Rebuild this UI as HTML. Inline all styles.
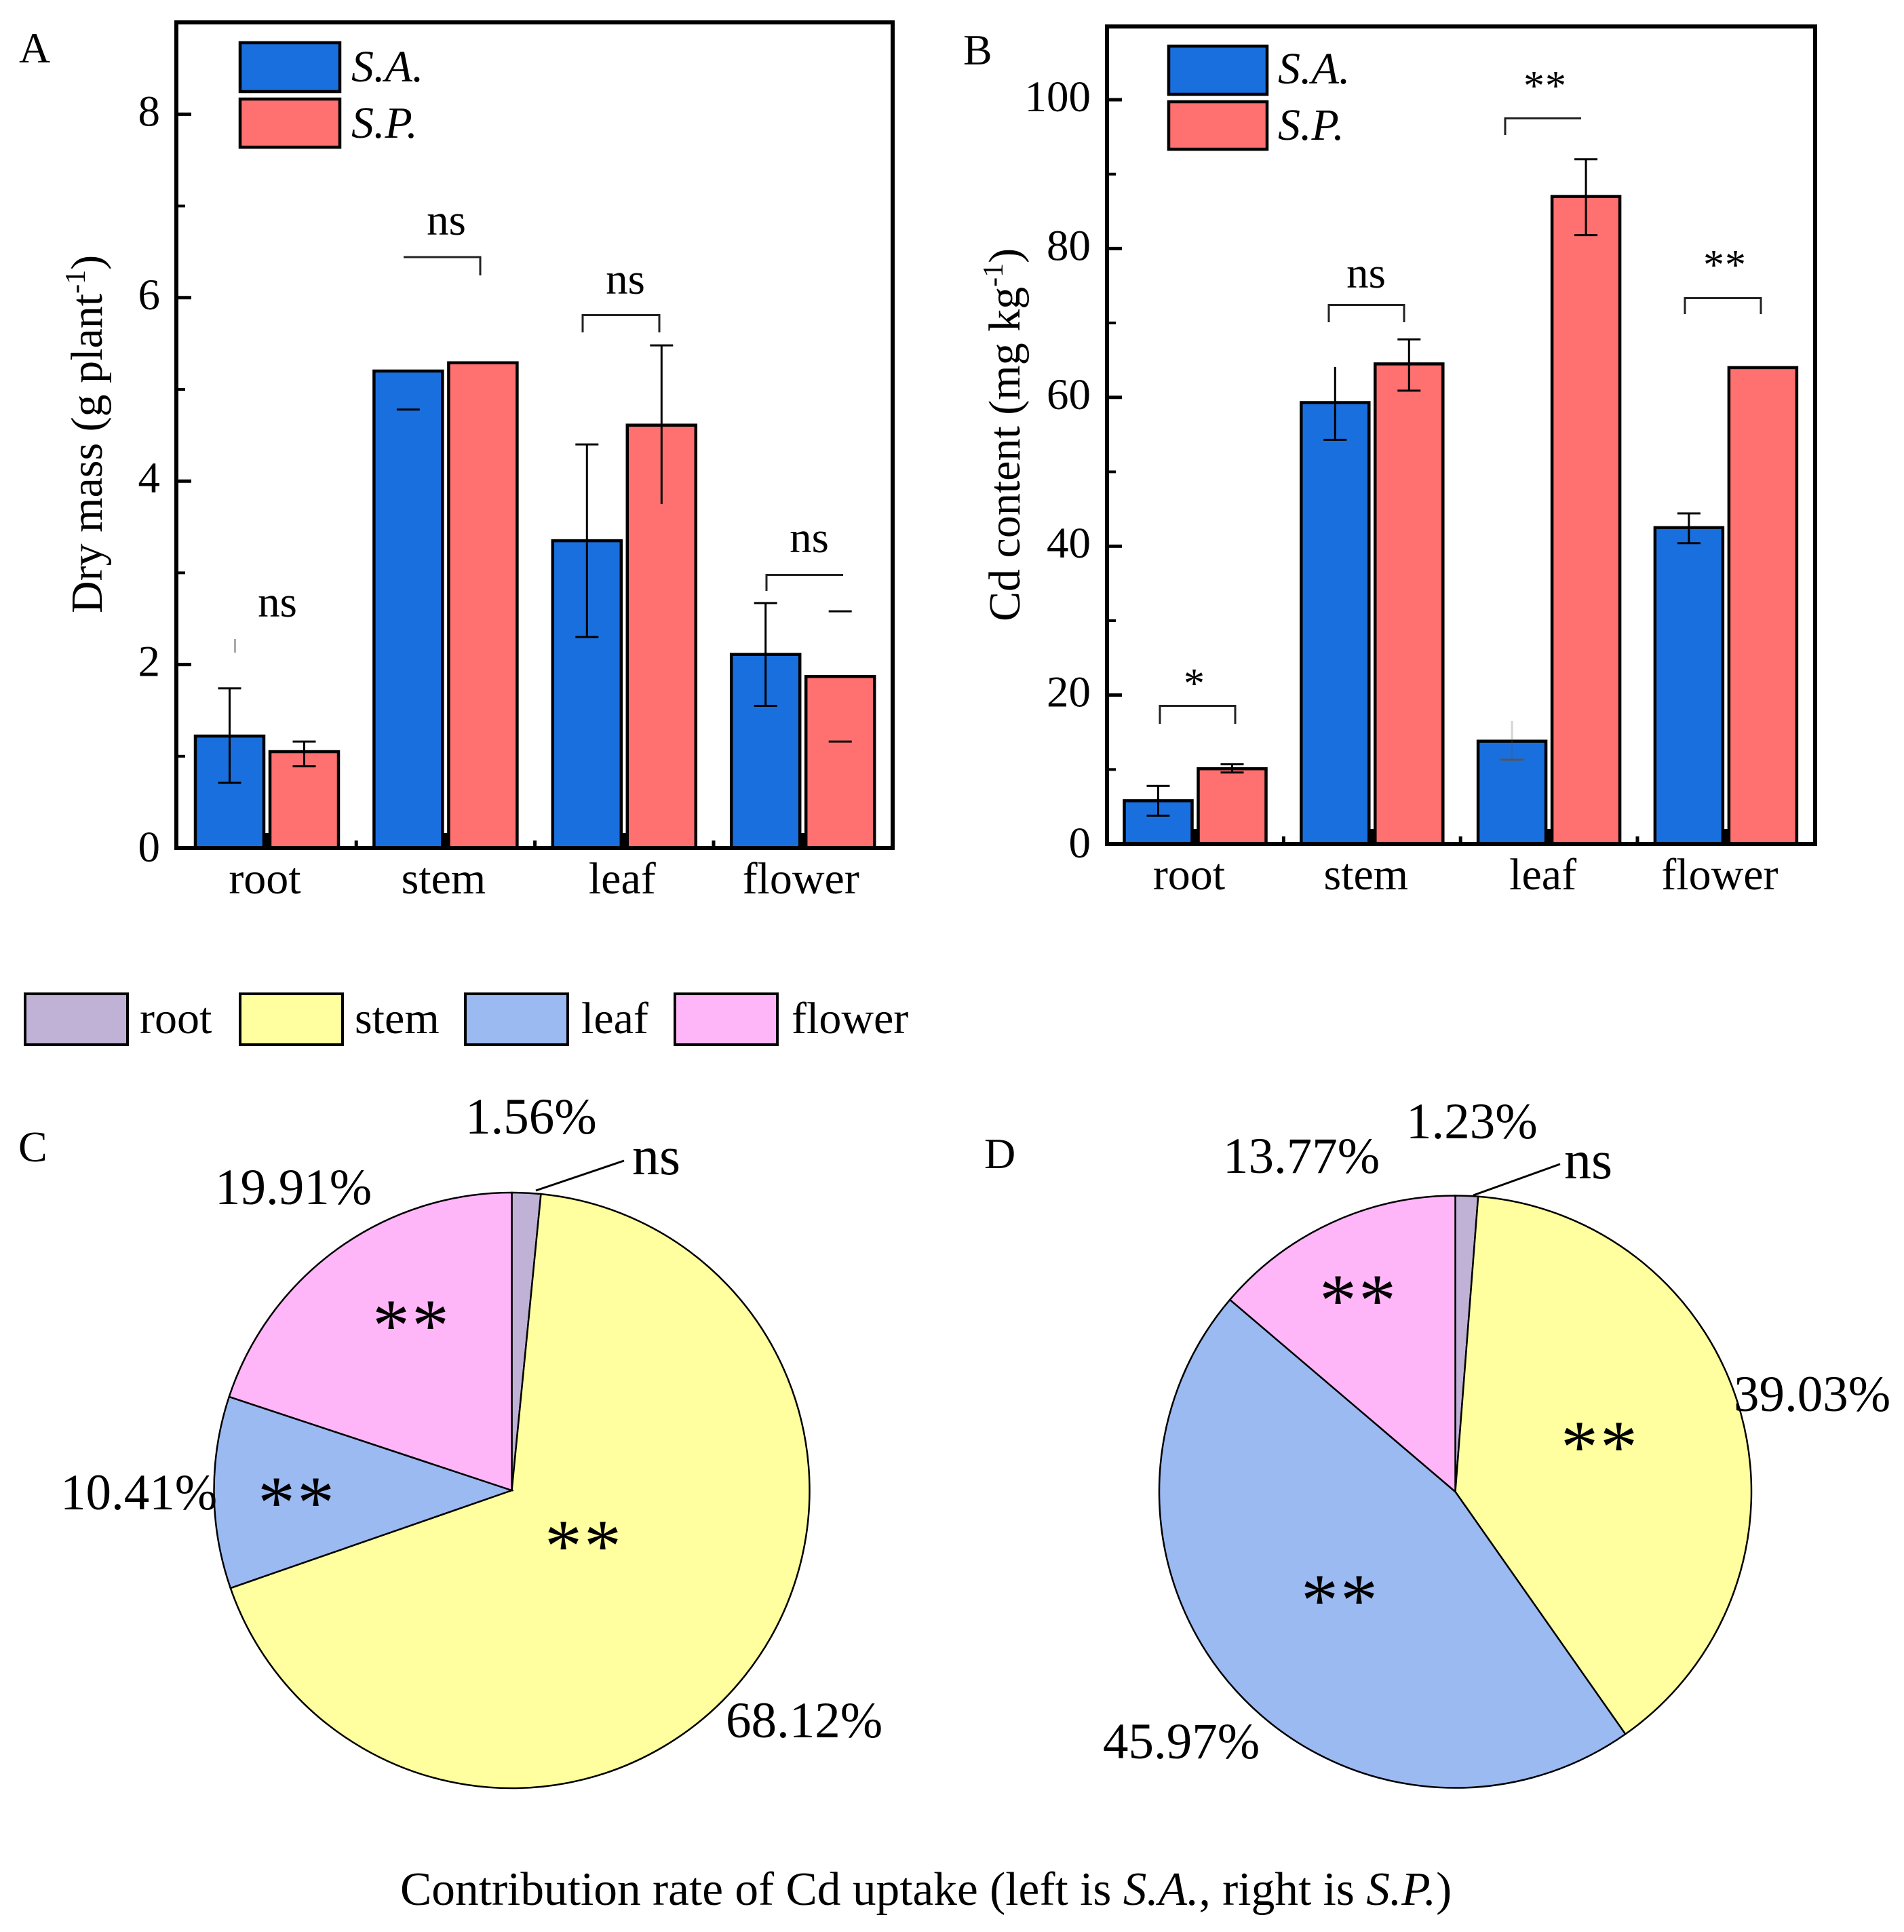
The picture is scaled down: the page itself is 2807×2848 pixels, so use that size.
<!DOCTYPE html>
<html lang="en">
<head>
<meta charset="utf-8">
<title>Dry mass, Cd content and Cd uptake contribution</title>
<style>
html,body{margin:0;padding:0;background:#fff}
svg{display:block}
text{font-family:"Liberation Serif",serif;fill:#000}
.tick{font-size:65px}
.cat{font-size:66px}
.pct{font-size:75px}
.pns{font-size:80px}
.panel{font-size:64px}
.stars{font-size:110px;letter-spacing:3px}
.sm{font-size:62px;letter-spacing:1px}
.ns{font-size:65px}
.leg{font-size:66px}
.it{font-style:italic;font-size:66px}
</style>
</head>
<body>
<svg id="fig" xmlns="http://www.w3.org/2000/svg" width="2807" height="2848" viewBox="0 0 2807 2848">
  <rect width="2807" height="2848" fill="#fff"/>
  <g id="panelA"></g>
  <g id="panelB"></g>
  <g id="pieC"></g>
  <g id="pieD"></g>

  <text class="panel" x="28" y="92">A</text>
  <text class="panel" x="1420" y="95">B</text>
  <text class="panel" x="27" y="1712">C</text>
  <text class="panel" x="1451" y="1722">D</text>

  <text font-size="66" transform="translate(150,904) rotate(-90)">Dry mass (g plant<tspan font-size="42" dy="-25">-1</tspan><tspan dy="25">)</tspan></text>
  <text font-size="66" transform="translate(1503,916) rotate(-90)">Cd content (mg kg<tspan font-size="42" dy="-25">-1</tspan><tspan dy="25">)</tspan></text>

  <g>
    <rect x="354" y="63" width="147" height="72" fill="#1a6fdf" stroke="#000" stroke-width="4.500"/>
    <rect x="354" y="146" width="147" height="71" fill="#ff7070" stroke="#000" stroke-width="4.500"/>
    <text class="it" x="518" y="120">S.A.</text>
    <text class="it" x="518" y="203">S.P.</text>
  </g>
  <g>
    <rect x="1723" y="68" width="145" height="71" fill="#1a6fdf" stroke="#000" stroke-width="4.500"/>
    <rect x="1723" y="150" width="145" height="70" fill="#ff7070" stroke="#000" stroke-width="4.500"/>
    <text class="it" x="1884" y="123">S.A.</text>
    <text class="it" x="1884" y="206">S.P.</text>
  </g>

  <g fill="none" stroke="#222" stroke-width="3">
    <path d="M595 379H708V406"/>
    <path d="M859 490V464.500H972V490"/>
    <path d="M1130 871V847.500H1243"/>
    <path d="M346.500 942V962" stroke="#aaa"/>
    <path d="M1710 1067V1040.500H1821V1067"/>
    <path d="M1959 475V449.500H2070V475"/>
    <path d="M2219 199V174.500H2331"/>
    <path d="M2484 463V439.500H2596V463"/>
  </g>
  <g text-anchor="middle">
    <text class="ns" x="409" y="909">ns</text>
    <text class="ns" x="658" y="346">ns</text>
    <text class="ns" x="922" y="433">ns</text>
    <text class="ns" x="1193" y="814">ns</text>
    <text class="sm" x="1761" y="1028">*</text>
    <text class="ns" x="2014" y="424">ns</text>
    <text class="sm" x="2278" y="147">**</text>
    <text class="sm" x="2543" y="411">**</text>
  </g>

  <g stroke="#000" stroke-width="4">
    <rect x="37" y="1465" width="151" height="75" fill="#bfb2d6"/>
    <rect x="354" y="1465" width="151" height="75" fill="#ffff9f"/>
    <rect x="686" y="1465" width="151" height="75" fill="#9bbaf2"/>
    <rect x="995" y="1465" width="151" height="75" fill="#ffb6f8"/>
  </g>
  <text class="leg" x="206" y="1523">root</text>
  <text class="leg" x="523" y="1523">stem</text>
  <text class="leg" x="857" y="1523">leaf</text>
  <text class="leg" x="1167" y="1523">flower</text>

  <g>
    <text class="pct" x="686" y="1671">1.56%</text>
    <text class="pns" x="932" y="1731">ns</text>
    <path d="M920 1711L790 1755" stroke="#000" stroke-width="3" fill="none"/>
    <text class="pct" x="317" y="1775">19.91%</text>
    <text class="pct" x="89" y="2225">10.41%</text>
    <text class="pct" x="1070" y="2561">68.12%</text>
    <text class="stars" x="607" y="1991" text-anchor="middle">**</text>
    <text class="stars" x="438" y="2252" text-anchor="middle">**</text>
    <text class="stars" x="861" y="2316" text-anchor="middle">**</text>
  </g>
  <g>
    <text class="pct" x="2073" y="1678">1.23%</text>
    <text class="pns" x="2306" y="1737">ns</text>
    <path d="M2300 1716L2172 1762" stroke="#000" stroke-width="3" fill="none"/>
    <text class="pct" x="1803" y="1729">13.77%</text>
    <text class="pct" x="2556" y="2080">39.03%</text>
    <text class="pct" x="1626" y="2592">45.97%</text>
    <text class="stars" x="2003" y="1954" text-anchor="middle">**</text>
    <text class="stars" x="2359" y="2170" text-anchor="middle">**</text>
    <text class="stars" x="1976" y="2396" text-anchor="middle">**</text>
  </g>

  <text font-size="69.400" x="590" y="2808">Contribution rate of Cd uptake (left is <tspan font-style="italic">S.A.</tspan>, right is <tspan font-style="italic">S.P.</tspan>)</text>
</svg>
<script>
const categories = ['root', 'stem', 'leaf', 'flower'];
const dryTicks = [0, 2, 4, 6, 8];
const dryMinor = [1, 3, 5, 7];
const drySA = [1.22, 5.2, 3.35, 2.11];
const drySP = [1.05, 5.29, 4.61, 1.87];
const drySAHi = [1.74, 5.62, 4.4, 2.67];
const drySALo = [0.71, 4.78, 2.3, 1.55];
const drySPHi = [1.16, 5.29, 5.48, 2.58];
const drySPLo = [0.89, 5.29, 3.75, 1.16];
const drySAParts = ['full', 'low', 'full', 'full'];
const drySPParts = ['full', 'none', 'nolow', 'caps'];

const cdTicks = [0, 20, 40, 60, 80, 100];
const cdMinor = [10, 30, 50, 70, 90];
const cdSA = [5.8, 59.3, 13.8, 42.5];
const cdSP = [10.1, 64.5, 87, 64];
const cdSAHi = [7.8, 64.1, 16.5, 44.4];
const cdSALo = [3.8, 54.3, 11.3, 40.4];
const cdSPHi = [10.7, 67.8, 92, 64];
const cdSPLo = [9.6, 60.9, 81.8, 64];
const cdSAParts = ['full', 'nohigh', 'faint', 'full'];
const cdSPParts = ['full', 'full', 'full', 'none'];

const pieCategories = ['root', 'stem', 'leaf', 'flower'];
const pieSA = [1.56, 68.12, 10.41, 19.91];
const pieSP = [1.23, 39.03, 45.97, 13.77];
const pieColors = ['#bfb2d6', '#ffff9f', '#9bbaf2', '#ffb6f8'];

const SVGNS = 'http://www.w3.org/2000/svg';
function make(tag, parent, attrs) {
  const el = document.createElementNS(SVGNS, tag);
  for (const k in attrs) el.setAttribute(k, attrs[k]);
  parent.appendChild(el);
  return el;
}

function drawBars(cfg) {
  const g = document.getElementById(cfg.id);
  const yPx = v => cfg.y0 - v * cfg.yUnit;
  const xPx = i => cfg.x0 + i * cfg.step;

  cfg.ticks.forEach(t => {
    const tick = make('line', g, {x1: cfg.left, x2: cfg.left + 22, y1: yPx(t), y2: yPx(t), stroke: '#000', 'stroke-width': 5});
    
    
    const label = make('text', g, {class: 'tick', x: cfg.left - 24, y: yPx(t) + 17 + (t === 0 ? 3 : 0), 'text-anchor': 'end'});
    label.textContent = t;
    
    
  });
  cfg.minor.forEach(t => {
    const tick = make('line', g, {x1: cfg.left, x2: cfg.left + 13, y1: yPx(t), y2: yPx(t), stroke: '#000', 'stroke-width': 4});
    
    
  });

  categories.forEach((c, i) => {
    const tick = make('line', g, {x1: xPx(i), x2: xPx(i), y1: cfg.y0, y2: cfg.y0 - 22, stroke: '#000', 'stroke-width': 9});
    
    
    if (i < categories.length - 1) {
      const minor = make('line', g, {x1: xPx(i + 0.5), x2: xPx(i + 0.5), y1: cfg.y0, y2: cfg.y0 - 11, stroke: '#000', 'stroke-width': 5});
      
      
    }
    const label = make('text', g, {class: 'cat', x: xPx(i) + cfg.labelShift, y: cfg.labelY, 'text-anchor': 'middle'});
    label.textContent = c;
    
    

    [[cfg.sa, cfg.saHi, cfg.saLo, cfg.saParts, '#1a6fdf', 'sa', -1],
     [cfg.sp, cfg.spHi, cfg.spLo, cfg.spParts, '#ff7070', 'sp', 1]].forEach(s => {
      const cx = xPx(i) + s[6] * (cfg.bw + cfg.gap) / 2;
      const bar = make('rect', g, {x: cx - cfg.bw / 2, y: yPx(s[0][i]), width: cfg.bw, height: cfg.y0 - yPx(s[0][i]), fill: s[4], stroke: '#000', 'stroke-width': 4.5});
      
      
    });
    [[cfg.sa, cfg.saHi, cfg.saLo, cfg.saParts, '#1a6fdf', 'sa', -1],
     [cfg.sp, cfg.spHi, cfg.spLo, cfg.spParts, '#ff7070', 'sp', 1]].forEach(s => {
      const cx = xPx(i) + s[6] * (cfg.bw + cfg.gap) / 2;
      const part = s[3][i];
      if (part === 'none') return;
      const color = part === 'faint' ? '#555' : '#000';
      const eg = make('g', g, {stroke: color, 'stroke-width': 3});
      
      
      const hi = yPx(s[1][i]);
      const lo = yPx(s[2][i]);
      if (part === 'full' || part === 'nolow' || part === 'nohigh' || part === 'faint') {
        make('line', eg, {x1: cx, x2: cx, y1: hi, y2: lo, 'stroke-opacity': part === 'faint' ? 0.25 : 1});
      }
      if (part === 'full' || part === 'nolow' || part === 'caps') {
        make('line', eg, {x1: cx - 17, x2: cx + 17, y1: hi, y2: hi});
      }
      if (part === 'full' || part === 'low' || part === 'caps' || part === 'nohigh' || part === 'faint') {
        make('line', eg, {x1: cx - 17, x2: cx + 17, y1: lo, y2: lo});
      }
    });
  });

  const frame = make('rect', g, {x: cfg.left, y: cfg.top, width: cfg.right - cfg.left, height: cfg.y0 - cfg.top, fill: 'none', stroke: '#000', 'stroke-width': 6});
  
  
}

function drawPie(id, values, cx, cy, r) {
  const g = document.getElementById(id);
  let acc = 0;
  const pt = f => {
    const a = f * 2 * Math.PI;
    return (cx + r * Math.sin(a)).toFixed(2) + ' ' + (cy - r * Math.cos(a)).toFixed(2);
  };
  const total = values.reduce((a, b) => a + b, 0);
  values.forEach((v, i) => {
    const start = acc / total;
    acc += v;
    const end = acc / total;
    const large = end - start > 0.5 ? 1 : 0;
    const slice = make('path', g, {
      d: 'M' + cx + ' ' + cy + 'L' + pt(start) + 'A' + r + ' ' + r + ' 0 ' + large + ' 1 ' + pt(end) + 'Z',
      fill: pieColors[i], stroke: '#000', 'stroke-width': 2.5
    });
    
    
  });
}

drawBars({
  id: 'panelA', left: 260, right: 1316, top: 33, y0: 1250, yUnit: 135.2,
  x0: 393.5, step: 263.4, bw: 101, gap: 9, labelShift: -3, labelY: 1317,
  ticks: dryTicks, minor: dryMinor,
  sa: drySA, sp: drySP, saHi: drySAHi, saLo: drySALo, spHi: drySPHi, spLo: drySPLo,
  saParts: drySAParts, spParts: drySPParts
});
drawBars({
  id: 'panelB', left: 1632, right: 2676, top: 39, y0: 1244, yUnit: 10.97,
  x0: 1762, step: 260.800, bw: 100, gap: 9, labelShift: -9, labelY: 1311,
  ticks: cdTicks, minor: cdMinor,
  sa: cdSA, sp: cdSP, saHi: cdSAHi, saLo: cdSALo, spHi: cdSPHi, spLo: cdSPLo,
  saParts: cdSAParts, spParts: cdSPParts
});
drawPie('pieC', pieSA, 754.5, 2197, 439);
drawPie('pieD', pieSP, 2145.5, 2199, 436.5);
</script>
</body>
</html>
